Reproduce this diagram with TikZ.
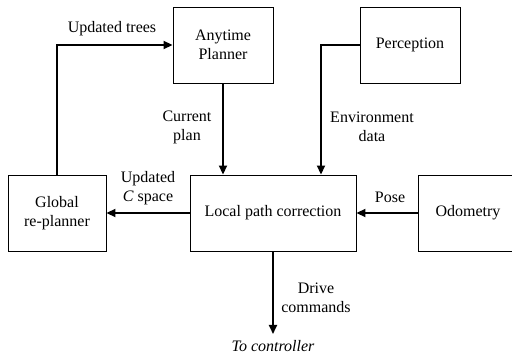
\documentclass[tikz,border=0pt]{standalone}
\usepackage{fontspec}
\setmainfont{Liberation Serif}
\usetikzlibrary{positioning,calc,arrows.meta}

\begin{document}
\begin{tikzpicture}[x=1pt,y=1pt,
    block/.style={draw,line width=0.9pt,rectangle,minimum height=76pt,align=center},
    flow/.style={line width=1.8pt,-{Triangle[length=9pt,width=8pt]}},
    lbl/.style={align=center}]
    \useasboundingbox (0,0) rectangle (512,356);
    \fontsize{16}{19}\selectfont

    % blocks
    \node[block,minimum width=100pt] (anytime) at (223,311) {Anytime\\Planner};
    \node[block,minimum width=100pt] (percep) at (410,311) {Perception};
    \node[block,minimum width=98pt] (global) at (57,143) {Global\\re-planner};
    \node[block,minimum width=166pt] (local) at (273,143) {Local path correction};
    \node[block,minimum width=100pt] (odom) at (468,143) {Odometry};
    \coordinate (ctrl) at (273,22);

    % connectors
    \draw[flow] (global.north) |- (anytime.west);
    \draw[flow] (anytime.south) -- (anytime.south |- local.north);
    \draw[flow] (percep.west) -| ([xshift=48pt]local.north);
    \draw[flow] (local.west) -- (global.east);
    \draw[flow] (odom.west) -- (local.east);
    \draw[flow] (local.south) -- (ctrl);

    % labels
    \node[lbl] (lbltrees) at (112,327) {Updated trees};
    \node[lbl] (lblplan) at (187,229) {Current\\plan};
    \node[lbl] (lblenv) at (372,229) {Environment\\data};
    \node[lbl] (lblcspace) at (148,168) {Updated\\\textit{C} space};
    \node[lbl] (lblpose) at (390,159) {Pose};
    \node[lbl] (lbldrive) at (316,58) {Drive\\commands};
    \node[lbl,inner sep=1pt] (lblctrl) at (273,10) {\itshape To controller};
\end{tikzpicture}
\end{document}
